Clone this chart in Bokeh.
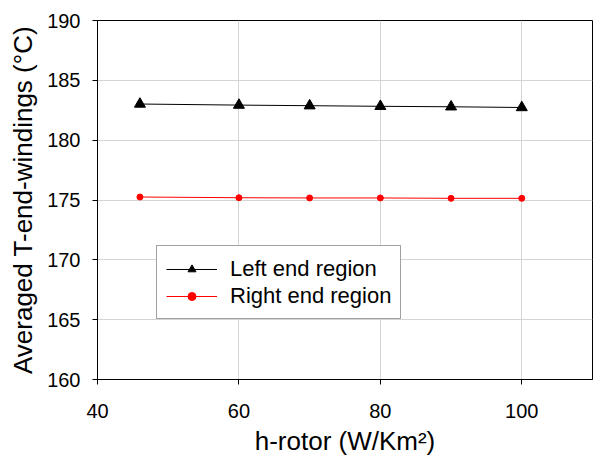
from bokeh.plotting import figure
from bokeh.models import Range1d, FixedTicker, Legend, LegendItem
from bokeh.embed import file_html
from bokeh.resources import INLINE

h_rotor = [46, 60, 70, 80, 90, 100]
left_end = [183.02, 182.93, 182.88, 182.83, 182.79, 182.73]
right_end = [175.25, 175.19, 175.17, 175.17, 175.14, 175.14]
x_ticks = [40, 60, 80, 100]
y_ticks = [160, 165, 170, 175, 180, 185, 190]

FONT = "Liberation Sans"

p = figure(width=594, height=458, output_backend="svg", toolbar_location=None,
           x_range=Range1d(40, 110), y_range=Range1d(160, 190),
           min_border_left=97, min_border_right=2, min_border_top=20,
           min_border_bottom=70)
p.frame_width = 495
p.frame_height = 359

p.xaxis.ticker = FixedTicker(ticks=x_ticks)
p.yaxis.ticker = FixedTicker(ticks=y_ticks)
p.xgrid.ticker = FixedTicker(ticks=[60, 80, 100])
p.ygrid.ticker = FixedTicker(ticks=[165, 170, 175, 180, 185])
for g in (p.xgrid, p.ygrid):
    g.grid_line_color = "#d4d4d4"
    g.grid_line_width = 1

for ax in (p.xaxis, p.yaxis):
    ax.axis_line_color = "black"
    ax.major_tick_line_color = "black"
    ax.major_tick_out = 5
    ax.major_tick_in = 0
    ax.minor_tick_line_color = None
    ax.major_label_text_font = FONT
    ax.major_label_text_font_size = "20px"
    ax.major_label_text_color = "black"
    ax.axis_label_text_font = FONT
    ax.axis_label_text_font_size = "26px"
    ax.axis_label_text_font_style = "normal"
    ax.axis_label_text_color = "black"

p.xaxis.axis_label = "h-rotor (W/Km²)"
p.yaxis.axis_label = "Averaged T-end-windings (°C)"
p.xaxis.major_label_standoff = 19
p.yaxis.major_label_standoff = 12
p.xaxis.axis_label_standoff = 5
p.yaxis.axis_label_standoff = 6

p.outline_line_color = "black"
p.outline_line_width = 1

l1 = p.line(h_rotor, left_end, line_color="black", line_width=1)
m1 = p.scatter(h_rotor, left_end, marker="triangle", size=11,
               fill_color="black", line_color="black")
l2 = p.line(h_rotor, right_end, line_color="red", line_width=1)
m2 = p.scatter(h_rotor, right_end, marker="circle", size=6,
               fill_color="red", line_color="red")

legend = Legend(items=[LegendItem(label="Left end region", renderers=[l1, m1]),
                       LegendItem(label="Right end region", renderers=[l2, m2])],
                location=(59, 60))
legend.label_text_font = FONT
legend.label_text_font_size = "22px"
legend.label_text_color = "black"
legend.border_line_color = "#444444"
legend.border_line_width = 1
legend.background_fill_color = "white"
legend.background_fill_alpha = 1
legend.padding = 9
legend.spacing = 0
legend.margin = 0
legend.label_height = 27
legend.glyph_height = 20
legend.glyph_width = 51
legend.label_standoff = 13
p.add_layout(legend, "center")

open("out.html", "w").write(file_html(p, INLINE))
